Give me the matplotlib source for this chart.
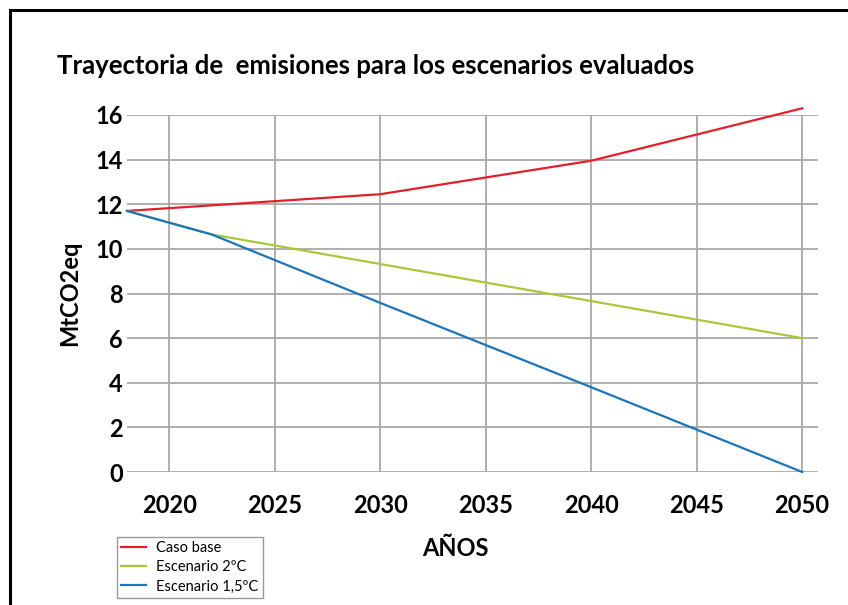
import matplotlib
matplotlib.use('Agg')
import matplotlib.pyplot as plt
from matplotlib.patches import Rectangle

# data
years_base = [2018, 2030, 2040, 2050]
caso_base = [11.7, 12.45, 13.95, 16.3]

years_2c = [2018, 2022, 2050]
escenario_2c = [11.7, 10.65, 6.0]

years_15c = [2018, 2022, 2030, 2040, 2050]
escenario_15c = [11.7, 10.65, 7.58, 3.8, 0.0]

x_ticks = [2020, 2025, 2030, 2035, 2040, 2045, 2050]
y_ticks = [0, 2, 4, 6, 8, 10, 12, 14, 16]

plt.rcParams['font.family'] = ['Lato', 'DejaVu Sans']

fig = plt.figure(figsize=(8.48, 6.05), dpi=100)
ax = fig.add_axes([127 / 848, 1 - 472 / 605, (818 - 127) / 848, (472 - 115) / 605])

ax.plot(years_base, caso_base, color='#e3202a', lw=1.6, label='Caso base', clip_on=False, zorder=3)
ax.plot(years_2c, escenario_2c, color='#a8c83a', lw=1.6, label='Escenario 2ºC', clip_on=False, zorder=3)
ax.plot(years_15c, escenario_15c, color='#1a75bb', lw=1.6, label='Escenario 1,5ºC', clip_on=False, zorder=4)

ax.set_xlim(2018, 2050.75)
ax.set_ylim(0, 16)
ax.set_xticks(x_ticks)
ax.set_yticks(y_ticks)
ax.grid(True, color='#a8a8a8', lw=1.3)
ax.set_axisbelow(True)
for s in ax.spines.values():
    s.set_visible(False)
ax.tick_params(length=0, labelsize=17, pad=3)
ax.tick_params(axis='x', pad=16)
for lab in ax.get_xticklabels() + ax.get_yticklabels():
    lab.set_fontweight('bold')

ax.set_xlabel('AÑOS', fontsize=17, fontweight='bold')
ax.xaxis.set_label_coords((455 - 127) / 691, -(548 - 472) / 357)
ax.xaxis.label.set_va('center')
ax.set_ylabel('MtCO2eq', fontsize=17, fontweight='bold')
ax.yaxis.set_label_coords(-(127 - 70) / 691, 0.5)
ax.yaxis.label.set_va('center')

fig.text(57 / 848, 1 - 66 / 605, 'Trayectoria de  emisiones para los escenarios evaluados',
         fontsize=18.5, fontweight='bold', va='center', ha='left')

leg = ax.legend(loc='upper left', bbox_to_anchor=(117 / 848, 1 - 537 / 605),
                bbox_transform=fig.transFigure, fontsize=10.5, frameon=True, fancybox=False,
                handlelength=1.7, handletextpad=0.7, borderpad=0.3, labelspacing=0.35,
                borderaxespad=0)
leg.get_frame().set_edgecolor('#808080')
leg.get_frame().set_linewidth(1.0)

# black frame around the whole graphic (runs off the right and bottom edges)
fig.patches.append(Rectangle((10 / 848, -0.05), 1.0, 1 - 10 / 605 + 0.05,
                             transform=fig.transFigure, fill=False, edgecolor='black',
                             lw=2.2, clip_on=False))

fig.savefig('out.png', dpi=100)
